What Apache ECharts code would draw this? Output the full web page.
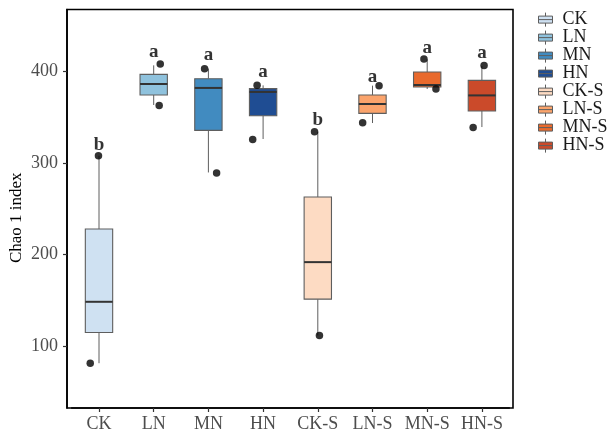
<!DOCTYPE html>
<html><head><meta charset="utf-8">
<script src="https://cdn.jsdelivr.net/npm/echarts@6/dist/echarts.min.js"></script>
<style>html,body{margin:0;padding:0;background:#fff}#c{width:609px;height:434px}</style>
</head><body><div id="c"></div>
<script>
const categories = ['CK', 'LN', 'MN', 'HN', 'CK-S', 'LN-S', 'MN-S', 'HN-S'];
const fills = ['#cfe1f2', '#8fc2dd', '#418bc0', '#1f4d93', '#fddbc3', '#fba46c', '#e96a2d', '#cb4a2a'];
const whiskerLow  = [81.0, 363.5, 289.7, 326.3, 111.3, 343.8, 381.0, 339.4];
const q1          = [114.6, 374.5, 335.7, 351.8, 151.1, 354.3, 383.2, 357.0];
const medians     = [148.2, 386.5, 382.2, 377.8, 191.6, 364.6, 385.4, 374.0];
const q3          = [227.8, 397.0, 392.3, 381.4, 262.8, 374.5, 399.6, 390.5];
const whiskerHigh = [308.0, 406.9, 403.3, 385.0, 334.3, 384.7, 413.5, 406.2];
const pointGroup  = [0, 0, 1, 1, 2, 2, 3, 3, 4, 4, 5, 5, 6, 6, 7, 7];
const pointJitter = [-0.01, -0.16, 0.12, 0.10, -0.07, 0.15, -0.11, -0.19, -0.06, 0.03, 0.12, -0.18, -0.06, 0.16, 0.04, -0.16];
const pointValue  = [308.0, 81.0, 408.4, 363.1, 403.3, 289.0, 385.0, 325.9, 334.3, 111.3, 384.7, 344.2, 413.9, 381.0, 406.6, 339.0];
const letters = ['b', 'a', 'a', 'a', 'b', 'a', 'a', 'a'];
const letterY = [320, 421, 418, 399, 347, 394, 426, 420];
const yTicks = [100, 200, 300, 400];
const yMin = 32, yMax = 468;

const serif = "'Liberation Serif', 'Times New Roman', serif";
const boxLine = '#5e5e5e';
const iconPath = 'path://M0 3 H12 V9 H0 Z M6 0 V3 M6 9 V12 M0 6 H12';

function renderBox(params, api) {
  const x = api.value(0);
  const top = api.coord([x, api.value(5)]);
  const hi = api.coord([x, api.value(4)]);
  const mid = api.coord([x, api.value(3)]);
  const lo = api.coord([x, api.value(2)]);
  const bot = api.coord([x, api.value(1)]);
  const w = api.size([1, 0])[0] * 0.5;
  const cx = top[0];
  const fill = api.visual('color');
  return {type: 'group', children: [
    {type: 'line', shape: {x1: cx, y1: top[1], x2: cx, y2: hi[1]}, style: {stroke: boxLine, lineWidth: 1}},
    {type: 'line', shape: {x1: cx, y1: lo[1], x2: cx, y2: bot[1]}, style: {stroke: boxLine, lineWidth: 1}},
    {type: 'rect', shape: {x: cx - w / 2, y: hi[1], width: w, height: lo[1] - hi[1]}, style: {fill: fill, stroke: boxLine, lineWidth: 1.1}},
    {type: 'line', shape: {x1: cx - w / 2, y1: mid[1], x2: cx + w / 2, y2: mid[1]}, style: {stroke: '#333', lineWidth: 2}}
  ]};
}

const boxSeries = categories.map((c, i) => ({
  name: c,
  type: 'custom',
  xAxisIndex: 0, yAxisIndex: 0,
  renderItem: renderBox,
  itemStyle: {color: fills[i]},
  encode: {x: 0, y: [1, 2, 3, 4, 5]},
  data: [[i, whiskerLow[i], q1[i], medians[i], q3[i], whiskerHigh[i]]],
  z: 2
}));

const option = {
  animation: false,
  backgroundColor: '#fff',
  grid: [
    {left: 71.65, right: 99.75, top: 9.5, bottom: 26, show: false, containLabel: false, outerBoundsMode: 'none'},
    {left: 67, right: 96, top: 9.5, bottom: 26, show: true, borderColor: '#000', borderWidth: 1.6, backgroundColor: 'transparent', containLabel: false, outerBoundsMode: 'none'}
  ],
  xAxis: [
    {type: 'category', gridIndex: 0, data: categories, boundaryGap: true,
     axisLine: {show: true, onZero: false, lineStyle: {color: '#000', width: 1.6}},
     axisTick: {show: true, alignWithLabel: true, length: 4, lineStyle: {color: '#333', width: 1.2}},
     axisLabel: {fontFamily: serif, fontSize: 18, color: '#4d4d4d', margin: 7, interval: 0},
     splitLine: {show: false}},
    {type: 'value', gridIndex: 0, min: -0.5, max: 7.5, show: false, axisLine: {onZero: false}},
    {type: 'value', gridIndex: 1, min: 0, max: 1, show: false, axisLine: {onZero: false}}
  ],
  yAxis: [
    {type: 'value', gridIndex: 0, min: yMin, max: yMax, show: false, axisLine: {onZero: false}},
    {type: 'value', gridIndex: 1, min: yMin, max: yMax,
     name: 'Chao 1 index', nameLocation: 'middle', nameGap: 42, nameMoveOverlap: false,
     nameTextStyle: {fontFamily: serif, fontSize: 17, color: '#000', padding: [0, 18, 0, 0]},
     axisLine: {show: true, onZero: false, lineStyle: {color: '#000', width: 1.6}},
     axisTick: {show: true, length: 4, lineStyle: {color: '#333', width: 1.2}, customValues: yTicks},
     axisLabel: {fontFamily: serif, fontSize: 18, color: '#4d4d4d', margin: 9, customValues: yTicks},
     splitLine: {show: false}}
  ],
  legend: {
    orient: 'vertical', left: 538, top: 10.6, padding: 0,
    itemWidth: 14, itemHeight: 14, itemGap: 0, symbolKeepAspect: true,
    selectedMode: false,
    textStyle: {fontFamily: serif, fontSize: 18, lineHeight: 17.4, color: '#1a1a1a', padding: [0, 0, 0, 5]},
    data: categories.map((c, i) => ({name: c, icon: iconPath,
      itemStyle: {color: fills[i], borderColor: boxLine, borderWidth: 1}}))
  },
  series: boxSeries.concat([
    {type: 'scatter', name: 'points', xAxisIndex: 1, yAxisIndex: 0,
     symbolSize: 7.5, itemStyle: {color: '#000'}, z: 5,
     data: pointValue.map((v, k) => [pointGroup[k] + pointJitter[k], v])},
    {type: 'scatter', name: 'letters', xAxisIndex: 0, yAxisIndex: 0,
     symbolSize: 0, z: 6,
     data: letterY.map((v, i) => [i, v]),
     label: {show: true, position: 'inside', formatter: p => letters[p.dataIndex],
       fontFamily: serif, fontSize: 19, fontWeight: 'bold', color: '#000'}}
  ])
};
const chart = echarts.init(document.getElementById('c'), null, {renderer: 'canvas'});
chart.setOption(option);
</script>
</body></html>
